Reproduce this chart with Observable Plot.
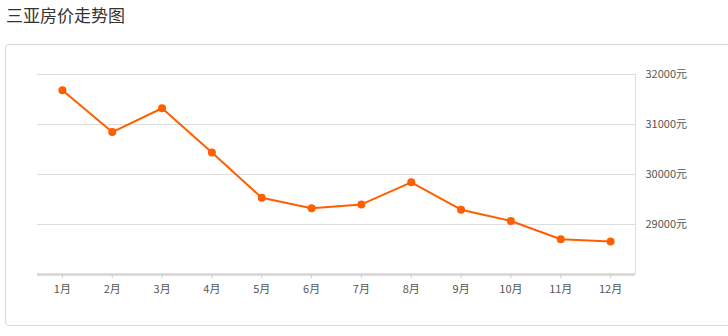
<!DOCTYPE html>
<html><head><meta charset="utf-8">
<script src="https://cdn.jsdelivr.net/npm/d3@7"></script>
<script src="https://cdn.jsdelivr.net/npm/@observablehq/plot@0.6"></script>
<style>
body{margin:0;width:728px;height:336px;overflow:hidden;background:#fff;position:relative;font-family:"Noto Sans CJK SC","Noto Sans",sans-serif;}
#title{position:absolute;left:6px;top:3px;font-size:17px;color:#333;line-height:24px;}
#card{position:absolute;left:5px;top:44px;width:760px;height:280px;border:1px solid #d9d9d9;border-radius:4px;}
#chart{position:absolute;left:0;top:0;}
</style></head>
<body>
<div id="title">三亚房价走势图</div>
<div id="card"></div>
<div id="chart"></div>
<script>
const months = ["1月","2月","3月","4月","5月","6月","7月","8月","9月","10月","11月","12月"];
const prices = [31683, 30849, 31325, 30439, 29534, 29327, 29401, 29843, 29296, 29069, 28706, 28661];
const yTicks = [29000, 30000, 31000, 32000];

const data = months.map((m, i) => ({idx: i + 1, month: m, price: prices[i]}));

const chart = Plot.plot({
  width: 728,
  height: 336,
  marginLeft: 37,
  marginRight: 93,
  marginTop: 74,
  marginBottom: 62,
  style: {background: "transparent", fontFamily: "'Noto Sans CJK SC','Noto Sans',sans-serif", fontSize: "11px", color: "#555", overflow: "visible"},
  x: {domain: [0.5, 12.5]},
  y: {domain: [28000, 32000]},
  marks: [
    Plot.ruleY(yTicks, {stroke: "#ddd", strokeWidth: 1}),
    Plot.ruleX([12.5], {y1: 28000, y2: 32000, stroke: "#ddd", strokeWidth: 1}),
    Plot.ruleY([28000], {stroke: "#d4d4d4", strokeWidth: 2.5}),
    Plot.axisX({ticks: months.map((m, i) => i + 1), tickFormat: d => months[d - 1], tickSize: 4, tickPadding: 7, stroke: "#ccc", fill: "#555", label: null}),
    Plot.axisY({anchor: "right", ticks: yTicks, tickFormat: d => d + "元", tickSize: 0, tickPadding: 10, fill: "#555", label: null}),
    Plot.line(data, {x: "idx", y: "price", stroke: "#ff5f00", strokeWidth: 2}),
    Plot.dot(data, {x: "idx", y: "price", fill: "#ff5f00", r: 4})
  ]
});
document.getElementById("chart").appendChild(chart);
</script>
</body></html>
